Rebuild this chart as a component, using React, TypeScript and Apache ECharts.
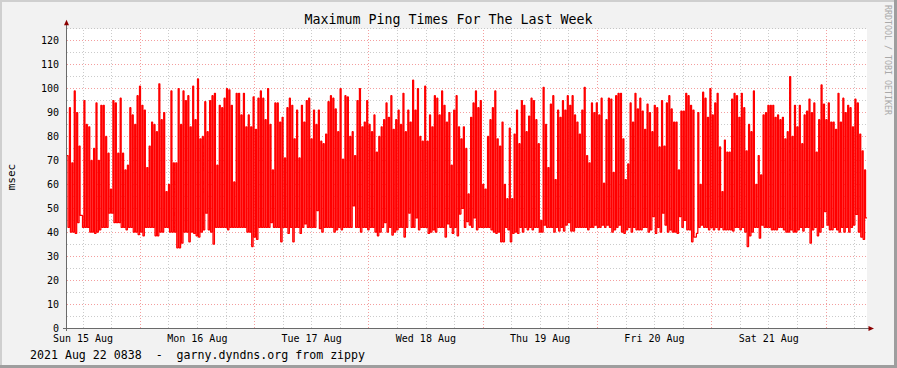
import React, { useEffect, useRef } from 'react';
import * as echarts from 'echarts';

const TITLE = 'Maximum Ping Times For The Last Week';
const Y_NAME = 'msec';
const FOOTER = '2021 Aug 22 0838  -  garny.dyndns.org from zippy';
const WATERMARK = 'RRDTOOL / TOBI OETIKER';

// hours counted from Sun 15 Aug 00:00
const START_HOUR = 8 + 38 / 60;
const END_HOUR = START_HOUR + 168;
const dayLabels = ['Sun 15 Aug', 'Mon 16 Aug', 'Tue 17 Aug', 'Wed 18 Aug', 'Thu 19 Aug', 'Fri 20 Aug', 'Sat 21 Aug'];
const dayLabelHours = [12, 36, 60, 84, 108, 132, 156];
const majorGridHours = [24, 48, 72, 96, 120, 144, 168];
const minorGridHours = [12, 18, 30, 36, 42, 54, 60, 66, 78, 84, 90, 102, 108, 114, 126, 132, 138, 150, 156, 162, 174];

// maximum ping (msec) per sample
const peaks = [
  72, 92, 69, 99, 90, 76, 47, 95, 85, 84, 70, 75, 94, 70, 93, 93, 80, 73, 58, 95,
  94, 73, 96, 73, 66, 68, 92, 89, 85, 97, 101, 93, 91, 67, 76, 86, 85, 82, 102, 87,
  90, 57, 60, 99, 69, 69, 100, 85, 99, 95, 97, 84, 101, 87, 104, 79,
  80, 94.5, 82, 95, 97, 98, 68, 93, 92, 96, 100, 99.5, 93, 61, 98, 98, 89, 98, 84, 89,
  84, 96.5, 83, 96, 99, 96, 87, 100, 85, 66, 94, 94, 86, 88, 71, 92, 96, 93, 79, 91,
  71, 93, 86, 95, 96, 79, 91, 85, 91, 78, 77, 81, 94.5,
  97, 96, 91.5, 82, 100, 70.5, 97, 96.5, 80, 82, 72, 95, 100, 84, 86, 95, 85, 82, 89, 73.5,
  80, 84, 87, 94, 88, 97, 83, 87, 91, 85, 98, 82, 91, 86, 103.5, 91, 100, 80, 78, 101,
  78, 89, 84, 97, 96, 89, 99, 93, 86, 90, 68, 91, 97, 84, 79,
  84, 75, 56, 88, 94, 99, 92, 95, 60, 58, 80, 87, 92, 99, 79, 76, 86, 60, 54, 83.5,
  54, 81, 91, 77, 95, 93, 82, 88.5, 96, 95, 87, 77, 45, 100.5, 85, 67, 93.5, 97, 62, 91,
  88, 95, 91, 97, 93, 97, 89, 86, 81, 91, 100.5, 72, 69, 94, 90, 94, 89,
  96, 60.5, 87, 96, 95.6, 65, 97, 98, 98, 79, 62, 68.5, 94, 86, 98, 91.5, 96, 90.6, 83, 93.5,
  90, 82, 93, 92, 75.6, 95, 76, 94, 97, 91.5, 86, 86, 66, 90.6, 90.6, 98, 97, 93, 91, 38,
  90, 60, 98.5, 96, 88, 100, 89, 94, 98, 75.6, 57, 78.5, 73.5,
  73.5, 95.6, 98, 97, 88, 98, 92, 74, 85, 82, 99, 60, 72, 64, 89, 90, 93, 93, 93, 88,
  89, 87, 88, 79, 82, 105, 80, 93, 84, 93, 77, 89, 90.6, 95.6, 90, 94, 73.5, 87, 101.5, 93.5,
  87, 94, 86, 86, 83, 98, 86, 96, 90, 93, 92, 84, 95.6, 94, 81, 74, 66,
];

// low value reached between consecutive peaks (msec)
const lows = [
  42, 40, 40, 39.5, 44, 47, 42, 42, 42, 40, 40, 39.5, 40, 41, 42, 42, 42, 48, 48, 44,
  44, 44, 42, 42, 41, 42, 42, 40, 40, 39, 40, 38.5, 42, 42, 42, 42, 38.5, 38.5, 40, 40,
  42, 42, 40, 40, 40, 33.5, 33.5, 35.4, 40, 40, 36, 40, 39.5, 38.5, 38, 40,
  41, 48, 41, 40, 35, 42, 42, 42, 42, 42, 41, 42, 42, 42, 42, 42, 42, 42, 40, 40,
  34, 38, 37, 42, 42, 42, 42, 42, 44, 42, 42, 42, 36, 42, 42, 39.5, 42, 36, 42, 42,
  39.5, 42, 43.5, 42, 42, 42, 42, 49, 41.5, 40, 42, 42, 42,
  42, 40, 41, 42, 41, 42, 42, 42, 42, 51, 42, 42, 40, 42, 42, 41, 42, 42, 40, 38.5,
  40, 42, 44, 40, 42, 38.8, 40, 41, 42, 42, 38, 42, 48, 42, 42, 46, 41, 42, 42, 42,
  39.5, 40, 41, 40, 42, 42, 42, 38, 43.5, 42, 39.5, 42, 38.5, 47.6, 50,
  42, 44.4, 43, 42, 46, 41, 42, 42, 42, 42, 42, 41, 40, 39.5, 40, 36, 36, 42, 41, 36,
  39.5, 40, 39.5, 42, 40, 42, 41, 42, 41, 42, 42, 40, 40, 43, 42, 42, 42, 40, 42, 40.5,
  42, 40.5, 43, 44, 40.5, 40.5, 42, 42, 42, 42, 42, 41, 42, 42, 43, 42, 42,
  43, 42, 43, 42, 40, 41, 42, 43, 40, 39.5, 41, 42, 40, 42, 41, 41, 41, 42, 42, 40,
  41, 46.5, 39.5, 42, 40, 48, 43, 40, 41, 40, 40, 39.5, 46.5, 42, 45, 41, 41, 36, 38, 39.5,
  42, 43, 42, 42, 41, 42, 41, 42, 41, 42, 41, 41, 41,
  41, 40.5, 42, 42, 41, 42, 40, 34, 38.5, 40, 42, 42, 37.5, 43, 42, 42, 42, 41, 41, 41,
  42, 42, 41, 40, 40, 41, 40, 40, 41, 42, 40.5, 42, 42, 35.4, 41, 42, 38.5, 40, 42, 48.6,
  43, 41, 41, 42, 41, 40, 42, 40, 42, 40, 42, 43, 47.5, 40, 38, 37, 46,
];

const W = 897;
const H = 368;
const GRID_LEFT = 67;
const GRID_TOP = 28.7;
const GRID_W = 800;
const GRID_H = 299.3;
const MONO = '"DejaVu Sans Mono", monospace';
const RED_GRID = 'rgba(225,0,0,0.38)';
const GRAY_GRID = 'rgba(140,140,140,0.45)';
const AXIS_COLOR = '#6a6a6a';
const ARROW_COLOR = '#8b0000';

function measure(text: string, font: string): number {
  const c = document.createElement('canvas').getContext('2d');
  if (!c) return text.length * 6;
  c.font = font;
  return c.measureText(text).width;
}

export default function App() {
  const ref = useRef<HTMLDivElement>(null);

  useEffect(() => {
    if (!ref.current) return;
    const chart = echarts.init(ref.current, null, { renderer: 'svg', width: W, height: H });

    const n = Math.min(peaks.length, lows.length);
    const dt = (END_HOUR - START_HOUR) / n;
    const hold = (END_HOUR - START_HOUR) / GRID_W; // a peak is held for about one pixel
    const lineData: number[][] = [];
    for (let i = 0; i < n; i++) {
      const t = START_HOUR + i * dt;
      lineData.push([t, peaks[i]]);
      lineData.push([t + hold, lows[i]]);
    }
    lineData.push([END_HOUR, lows[n - 1]]);

    const gridLines = [
      ...minorGridHours.map((h) => ({ xAxis: h, lineStyle: { color: GRAY_GRID, type: [1, 2], width: 1 } })),
      ...majorGridHours.map((h) => ({ xAxis: h, lineStyle: { color: RED_GRID, type: [1, 2], width: 1 } })),
    ];

    const axisBottom = GRID_TOP + GRID_H;
    const axisRight = GRID_LEFT + GRID_W;

    const staticGraphics: any[] = [
      { type: 'rect', shape: { x: 0, y: 0, width: W, height: 2 }, style: { fill: '#cfcfcf' }, silent: true },
      { type: 'rect', shape: { x: 0, y: 0, width: 2, height: H }, style: { fill: '#cfcfcf' }, silent: true },
      { type: 'rect', shape: { x: 0, y: H - 3, width: W, height: 3 }, style: { fill: '#9e9e9e' }, silent: true },
      { type: 'rect', shape: { x: W - 3, y: 0, width: 3, height: H }, style: { fill: '#9e9e9e' }, silent: true },
      {
        type: 'line',
        shape: { x1: GRID_LEFT - 0.5, y1: axisBottom + 3, x2: GRID_LEFT - 0.5, y2: GRID_TOP - 5 },
        style: { stroke: AXIS_COLOR, lineWidth: 1 },
        z: 20,
        silent: true,
      },
      {
        type: 'line',
        shape: { x1: GRID_LEFT - 4, y1: axisBottom + 0.5, x2: axisRight + 4, y2: axisBottom + 0.5 },
        style: { stroke: AXIS_COLOR, lineWidth: 1 },
        z: 20,
        silent: true,
      },
      {
        type: 'polygon',
        shape: { points: [[GRID_LEFT - 0.5, GRID_TOP - 9], [GRID_LEFT - 3, GRID_TOP - 3.5], [GRID_LEFT + 2, GRID_TOP - 3.5]] },
        style: { fill: ARROW_COLOR },
        z: 21,
        silent: true,
      },
      {
        type: 'polygon',
        shape: { points: [[axisRight + 7, axisBottom + 0.5], [axisRight + 1.5, axisBottom - 2], [axisRight + 1.5, axisBottom + 3]] },
        style: { fill: ARROW_COLOR },
        z: 21,
        silent: true,
      },
      {
        type: 'text',
        x: 448.5,
        y: 19.5,
        style: { text: TITLE, fontFamily: MONO, fontSize: 13.3, fill: '#000', textAlign: 'center', textVerticalAlign: 'middle' },
        silent: true,
      },
      {
        type: 'text',
        x: 11,
        y: 177,
        rotation: Math.PI / 2,
        style: { text: Y_NAME, fontFamily: MONO, fontSize: 11, fill: '#000', textAlign: 'center', textVerticalAlign: 'middle' },
        silent: true,
      },
      {
        type: 'text',
        x: 30,
        y: 354.5,
        style: { text: FOOTER, fontFamily: MONO, fontSize: 11.6, fill: '#000', textAlign: 'left', textVerticalAlign: 'middle' },
        silent: true,
      },
      {
        type: 'text',
        x: 887.5,
        y: 60,
        rotation: -Math.PI / 2,
        style: { text: WATERMARK, fontFamily: MONO, fontSize: 8.3, fill: '#a9a9a9', textAlign: 'center', textVerticalAlign: 'middle' },
        silent: true,
      },
    ];

    chart.setOption({
      animation: false,
      backgroundColor: '#f2f2f2',
      grid: {
        left: GRID_LEFT,
        top: GRID_TOP,
        width: GRID_W,
        height: GRID_H,
        show: true,
        backgroundColor: '#ffffff',
        borderWidth: 0,
      },
      xAxis: {
        type: 'value',
        min: START_HOUR,
        max: END_HOUR,
        axisLine: { show: false },
        axisTick: { show: false },
        splitLine: { show: false },
        axisLabel: { show: false },
      },
      yAxis: {
        type: 'value',
        min: 0,
        max: 125,
        interval: 5,
        axisLine: { show: false },
        axisTick: { show: false },
        axisLabel: {
          formatter: (v: number) => (v % 10 === 0 && v <= 120 ? String(v) : ''),
          fontFamily: MONO,
          fontSize: 10,
          color: '#000',
          margin: 8,
        },
        splitLine: {
          show: true,
          lineStyle: { color: [RED_GRID, GRAY_GRID], type: [1, 2], width: 1 },
        },
      },
      series: [
        {
          type: 'line',
          data: [],
          z: 1,
          silent: true,
          markLine: {
            z: 1,
            silent: true,
            symbol: ['none', 'none'],
            label: { show: false },
            emphasis: { disabled: true },
            data: gridLines,
          },
        },
        {
          type: 'line',
          z: 10,
          step: 'end',
          data: lineData,
          showSymbol: false,
          symbol: 'none',
          lineStyle: { color: '#ff0000', width: 1.25 },
          silent: true,
        },
      ],
      graphic: staticGraphics,
    });

    // day labels placed through the x axis scale, centred on noon of each day
    const labelFont = `10px "DejaVu Sans Mono"`;
    const labelGraphics = dayLabelHours.map((h, i) => {
      const px = chart.convertToPixel({ xAxisIndex: 0 }, h) as number;
      const w = measure(dayLabels[i], labelFont);
      return {
        type: 'text',
        x: px - w / 2,
        y: axisBottom + 10,
        style: { text: dayLabels[i], fontFamily: MONO, fontSize: 10, fill: '#000', textAlign: 'left', textVerticalAlign: 'middle' },
        silent: true,
      };
    });
    chart.setOption({ graphic: [...staticGraphics, ...labelGraphics] });

    return () => chart.dispose();
  }, []);

  return (
    <div
      ref={ref}
      style={{ position: 'fixed', left: 0, top: 0, width: W, height: H, background: '#f2f2f2' }}
    />
  );
}
